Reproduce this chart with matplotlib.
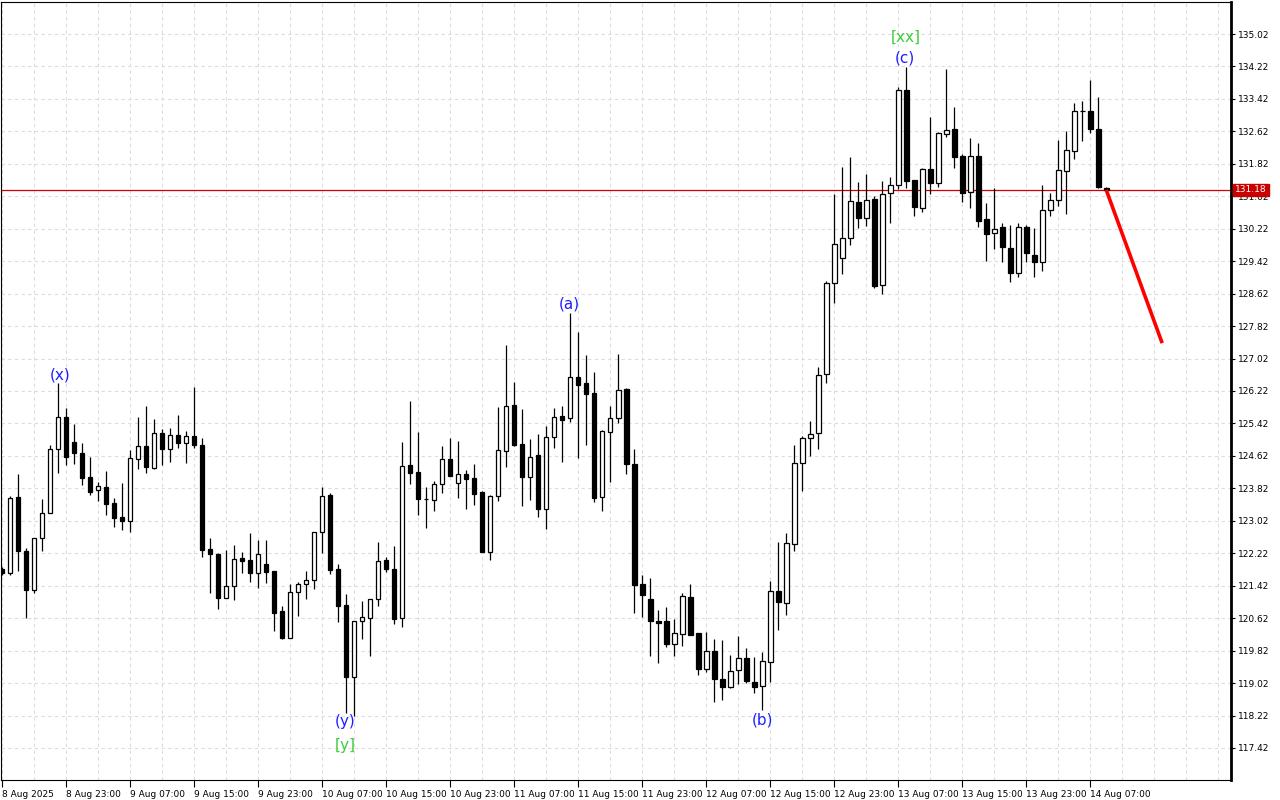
import numpy as np
import matplotlib
matplotlib.use("Agg")
import matplotlib.pyplot as plt

# hourly candles, 8 Aug 15:00 .. 14 Aug 09:00 (index 0 .. 138)
opens = [
    121.83, 121.73, 123.61, 122.28, 121.32, 122.60, 123.21, 124.79, 125.58, 124.96,
    124.69, 124.10, 123.78, 123.85, 123.46, 123.12, 123.02, 124.54, 124.86, 124.32,
    125.19, 124.79, 125.14, 124.94, 125.11, 124.89, 122.33, 122.20, 121.12, 121.41,
    122.10, 122.05, 121.73, 121.96, 121.78, 120.80, 120.13, 121.27, 121.46, 121.56,
    122.75, 123.66, 121.83, 120.95, 119.17, 120.55, 120.63, 121.09, 122.05, 121.83,
    120.63, 124.40, 124.22, 123.56, 123.53, 123.93, 124.54, 123.95, 124.17, 124.08,
    123.73, 122.25, 123.63, 124.74, 125.88, 124.91, 124.10, 124.64, 123.31, 125.09,
    125.60, 125.55, 126.57, 126.42, 126.17, 123.61, 125.21, 125.55, 126.27, 124.42,
    121.46, 121.09, 120.55, 120.55, 119.98, 120.23, 121.14, 120.26, 119.37, 119.81,
    119.12, 118.92, 119.34, 119.64, 119.05, 118.95, 119.54, 121.29, 120.99, 122.45,
    124.45, 125.06, 125.19, 126.64, 128.88, 129.50, 129.99, 130.88, 130.49, 130.95,
    128.83, 131.10, 131.30, 133.64, 131.42, 130.73, 131.69, 131.35, 132.56, 132.68,
    132.01, 131.13, 132.01, 130.46, 130.12, 130.26, 129.75, 129.13, 130.26, 129.57,
    129.40, 130.68, 130.93, 131.64, 132.14, 133.12, 133.12, 132.68, 131.22]
highs = [
    121.88, 123.63, 124.17, 122.35, 122.60, 123.56, 124.89, 126.42, 125.80, 125.41,
    124.94, 124.59, 123.98, 124.25, 123.58, 123.95, 124.77, 125.58, 125.85, 125.53,
    125.28, 125.31, 125.63, 125.23, 126.32, 125.06, 122.60, 122.23, 122.30, 122.42,
    122.25, 122.72, 122.55, 122.55, 121.78, 120.92, 121.46, 121.51, 121.78, 122.75,
    123.85, 123.71, 121.96, 121.22, 120.55, 121.04, 121.09, 122.50, 122.13, 122.40,
    124.96, 125.97, 125.21, 123.85, 124.00, 124.86, 125.06, 124.99, 124.27, 124.42,
    123.75, 123.66, 125.83, 127.35, 126.44, 125.78, 125.04, 125.16, 125.36, 125.80,
    125.85, 128.14, 127.68, 127.11, 126.69, 125.26, 125.85, 127.13, 126.29, 124.79,
    121.68, 121.61, 120.82, 120.90, 120.60, 121.24, 121.46, 120.26, 120.28, 120.11,
    120.08, 119.71, 120.18, 119.89, 119.66, 119.79, 121.54, 122.50, 122.72, 124.89,
    125.11, 125.48, 126.81, 128.93, 131.08, 131.74, 131.99, 131.37, 131.57, 131.03,
    131.40, 131.50, 133.71, 134.21, 131.42, 131.72, 132.97, 132.60, 134.16, 133.22,
    132.06, 132.46, 132.33, 130.85, 131.22, 130.36, 130.31, 130.36, 130.31, 130.24,
    131.30, 131.10, 132.41, 132.63, 133.32, 133.37, 133.89, 133.47, 131.25]
lows = [
    121.68, 121.68, 121.78, 120.63, 121.24, 122.28, 123.21, 124.20, 124.40, 124.42,
    123.90, 123.66, 123.51, 123.16, 122.87, 122.79, 122.75, 124.30, 124.20, 124.30,
    124.40, 124.47, 124.82, 124.45, 124.82, 122.13, 121.24, 120.85, 121.12, 121.07,
    121.73, 121.51, 121.36, 121.49, 120.30, 120.11, 120.13, 120.67, 121.09, 121.34,
    122.23, 121.71, 120.53, 118.28, 118.21, 120.11, 119.69, 120.92, 121.76, 120.48,
    120.40, 123.93, 123.16, 122.84, 123.26, 123.71, 124.12, 123.58, 123.31, 123.41,
    122.25, 122.05, 123.51, 124.35, 124.86, 123.39, 123.53, 123.12, 122.82, 124.82,
    124.47, 125.46, 124.57, 124.89, 123.48, 123.26, 123.98, 125.43, 124.17, 120.75,
    120.65, 119.69, 119.52, 119.91, 119.69, 119.94, 120.21, 119.22, 119.29, 118.55,
    118.60, 118.90, 119.00, 119.02, 118.78, 118.36, 119.05, 120.33, 120.70, 122.28,
    123.76, 124.62, 124.79, 126.42, 128.39, 129.10, 129.82, 130.24, 130.29, 128.76,
    128.61, 130.36, 131.20, 131.22, 130.53, 130.63, 131.08, 131.25, 132.48, 131.72,
    130.88, 130.73, 130.26, 129.42, 129.72, 129.40, 128.91, 129.03, 129.40, 129.03,
    129.18, 130.53, 130.78, 130.58, 131.94, 132.38, 132.58, 131.22, 131.18]
closes = [
    121.73, 123.58, 122.28, 121.32, 122.60, 123.21, 124.79, 125.58, 124.59, 124.69,
    124.08, 123.73, 123.88, 123.44, 123.09, 123.02, 124.57, 124.86, 124.35, 125.19,
    124.79, 125.14, 124.94, 125.11, 124.89, 122.30, 122.20, 121.12, 121.41, 122.08,
    122.03, 121.73, 122.20, 121.76, 120.75, 120.13, 121.27, 121.46, 121.56, 122.75,
    123.63, 121.81, 120.92, 119.17, 120.55, 120.65, 121.09, 122.03, 121.83, 120.60,
    124.37, 124.20, 123.56, 123.55, 123.93, 124.54, 124.12, 124.17, 124.05, 123.68,
    122.25, 123.63, 124.77, 125.85, 124.89, 124.10, 124.59, 123.31, 125.09, 125.58,
    125.50, 126.57, 126.37, 126.15, 123.58, 125.23, 125.55, 126.24, 124.42, 121.44,
    121.19, 120.55, 120.50, 119.98, 120.26, 121.17, 120.21, 119.37, 119.81, 119.12,
    118.92, 119.32, 119.64, 119.07, 118.92, 119.57, 121.29, 121.02, 122.48, 124.45,
    125.06, 125.16, 126.61, 128.88, 129.84, 129.99, 130.90, 130.49, 130.93, 128.81,
    131.08, 131.30, 133.64, 131.40, 130.76, 131.69, 131.35, 132.58, 132.65, 131.99,
    131.10, 132.01, 130.41, 130.09, 130.21, 129.77, 129.13, 130.26, 129.62, 129.40,
    130.68, 130.93, 131.67, 132.16, 133.12, 133.13, 132.68, 131.25, 131.18]

last_price = 131.18

# forecast line (bar index, price)
forecast_x = [138, 145]
forecast_y = [131.18, 127.40]

# wave labels
wave_text = ['(x)', '(y)', '[y]', '(a)', '(b)', '(c)', '[xx]']
wave_idx = [7.25, 42.9, 42.9, 70.9, 95.0, 112.9, 112.9]
wave_price = [126.61, 118.06, 117.49, 128.37, 118.11, 134.43, 134.95]
wave_color = ['#1f1fff', '#1f1fff', '#3ccc3c', '#1f1fff', '#1f1fff', '#1f1fff', '#3ccc3c']

price_ticks = [117.42, 118.22, 119.02, 119.82, 120.62, 121.42, 122.22, 123.02,
               123.82, 124.62, 125.42, 126.22, 127.02, 127.82, 128.62, 129.42,
               130.22, 131.02, 131.82, 132.62, 133.42, 134.22, 135.02]
time_labels = ['8 Aug 2025', '8 Aug 23:00', '9 Aug 07:00', '9 Aug 15:00', '9 Aug 23:00',
               '10 Aug 07:00', '10 Aug 15:00', '10 Aug 23:00', '11 Aug 07:00',
               '11 Aug 15:00', '11 Aug 23:00', '12 Aug 07:00', '12 Aug 15:00',
               '12 Aug 23:00', '13 Aug 07:00', '13 Aug 15:00', '13 Aug 23:00',
               '14 Aug 07:00']

o = np.array(opens)
h = np.array(highs)
l = np.array(lows)
c = np.array(closes)
idx = np.arange(len(o))

fig = plt.figure(figsize=(12.8, 8), dpi=100)
ax = fig.add_axes([1 / 1280, 20 / 800, 1230 / 1280, 778 / 800])

ax.set_xlim(-0.125, 153.6)
ax.set_ylim(116.63, 135.81)

# grid
ax.set_yticks(price_ticks)
ax.set_yticklabels([f'{p:.2f}' for p in price_ticks])
ax.set_xticks(np.arange(len(time_labels)) * 8)
ax.set_xticklabels(time_labels)
ax.set_xticks(np.arange(0, 154, 4), minor=True)
ax.grid(True, which='both', color='#dcdcdc', linestyle=(0, (3, 3)), linewidth=0.8)
ax.set_axisbelow(True)

# candles
up = c >= o
ax.vlines(idx, l, h, color='black', linewidth=0.9, zorder=2)
body_lo = np.minimum(o, c)
body_h = np.abs(c - o)
ax.bar(idx[up], body_h[up], bottom=body_lo[up], width=0.6,
       color='white', edgecolor='black', linewidth=0.9, zorder=3)
ax.bar(idx[~up], body_h[~up], bottom=body_lo[~up], width=0.6,
       color='black', edgecolor='black', linewidth=0.9, zorder=3)

# current price line + forecast
ax.axhline(last_price, color='#d00000', linewidth=0.9, zorder=1)
ax.plot(forecast_x, forecast_y, color='#ff0000', linewidth=2.6,
        solid_capstyle='butt', zorder=4)

for t, xi, yp, col in zip(wave_text, wave_idx, wave_price, wave_color):
    ax.text(xi, yp, t, color=col, fontsize=11, ha='center', va='center', zorder=5)

# axes styling (MT4 look)
ax.yaxis.tick_right()
ax.tick_params(axis='y', which='major', direction='out', length=3, width=0.8,
               labelsize=6.5, pad=2)
ax.tick_params(axis='x', which='major', direction='out', length=5, width=0.8,
               labelsize=6.5, pad=2)
ax.tick_params(axis='x', which='minor', length=0)
for lbl in ax.get_xticklabels():
    lbl.set_ha('left')
for sp in ax.spines.values():
    sp.set_color('black')
    sp.set_linewidth(0.8)
ax.spines['right'].set_linewidth(2.0)

ax.annotate(f'{last_price:.2f}', xy=(1.0, last_price), xycoords=('axes fraction', 'data'),
            xytext=(3, 0), textcoords='offset points', ha='left', va='center',
            fontsize=6.5, color='white',
            bbox=dict(boxstyle='square,pad=0.2', fc='#c80000', ec='#c80000'))

fig.savefig('out.png', dpi=100, facecolor='white')
